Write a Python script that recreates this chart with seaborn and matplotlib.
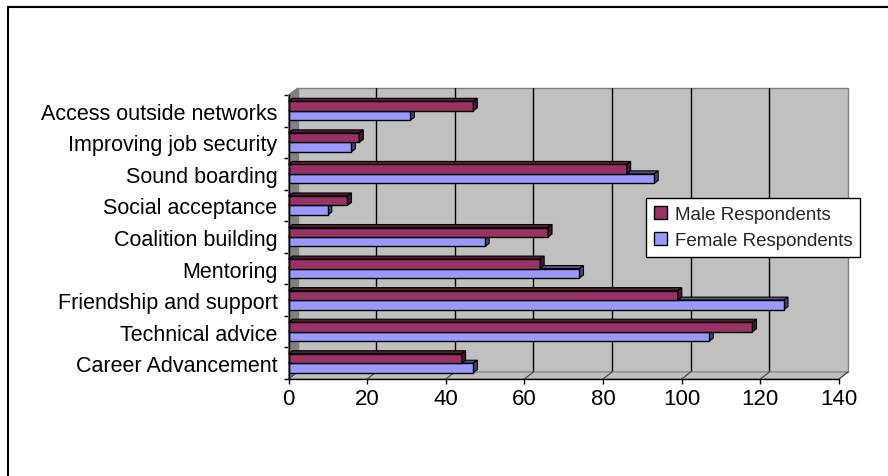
import numpy as np
import pandas as pd
import matplotlib
matplotlib.use("Agg")
import matplotlib.pyplot as plt
import seaborn as sns
from matplotlib.patches import Polygon, Rectangle, Patch
from matplotlib.lines import Line2D
import matplotlib.transforms as mtransforms

# ---------------- data ----------------
categories = ["Access outside networks", "Improving job security", "Sound boarding",
              "Social acceptance", "Coalition building", "Mentoring",
              "Friendship and support", "Technical advice", "Career Advancement"]
male = [47, 18, 86, 15, 66, 64, 99, 118, 44]
female = [31, 16, 93, 10, 50, 74, 126, 107, 47]
series = ["Male Respondents", "Female Respondents"]
x_ticks = [0, 20, 40, 60, 80, 100, 120, 140]

df = pd.DataFrame({
    "category": categories * 2,
    "group": [series[0]] * len(categories) + [series[1]] * len(categories),
    "value": male + female,
})

MALE_C = "#993366"
FEMALE_C = "#9999FF"
WALL_C = "#C0C0C0"
DARK_WALL = "#808080"

sns.set_theme(style="white")
plt.rcParams["font.family"] = ["Liberation Sans", "DejaVu Sans"]

W, H, DPI = 888, 477, 100
fig = plt.figure(figsize=(W / DPI, H / DPI), dpi=DPI)
fig.patch.set_facecolor("white")

# front plane of plot in pixels
L, R, T, B = 288.5, 839, 96, 380
ax = fig.add_axes([L / W, 1 - B / H, (R - L) / W, (B - T) / H])
ax.patch.set_visible(False)

sns.barplot(data=df, y="category", x="value", hue="group", order=categories,
            hue_order=series, palette=[MALE_C, FEMALE_C], orient="h",
            width=0.6, saturation=1, edgecolor="black", linewidth=1,
            legend=False, ax=ax)

ax.set_xlim(x_ticks[0], x_ticks[-1])
ax.set_ylim(len(categories) - 0.5, -0.5)
ax.set_xlabel("")
ax.set_ylabel("")
ax.set_xticks(x_ticks)
ax.set_xticklabels([str(t) for t in x_ticks], fontsize=16, color="black")
ax.set_yticks(range(len(categories)))
ax.set_yticklabels(categories, fontsize=15.5, color="black")
ax.set_yticks(np.arange(len(categories) + 1) - 0.5, minor=True)
ax.tick_params(axis="y", which="major", length=0, pad=8)
ax.tick_params(axis="y", which="minor", length=3.8, width=1, color="black", direction="out", left=True)
ax.tick_params(axis="x", which="major", length=3.8, width=1, color="black", direction="out", bottom=True, pad=3)
for s in ["top", "right"]:
    ax.spines[s].set_visible(False)
for s in ["left", "bottom"]:
    ax.spines[s].set_color("black")
    ax.spines[s].set_linewidth(1)
    ax.spines[s].set_zorder(5)
ax.grid(False)
ax.set_autoscale_on(False)

# ---------------- 3-D decorations ----------------
DX, DY = 9, 7  # depth offset of back wall in pixels
off = mtransforms.ScaledTranslation(DX / DPI, DY / DPI, fig.dpi_scale_trans)

# back wall
ax.add_patch(Rectangle((0, 0), 1, 1, transform=ax.transAxes + off, facecolor=WALL_C,
                       edgecolor=DARK_WALL, lw=1, zorder=0.1, clip_on=False))
# gridlines on back wall
for v in x_ticks[1:-1]:
    ax.plot([v, v], list(ax.get_ylim()), transform=ax.transData + off, color="black",
            lw=1, zorder=0.5, clip_on=False)

fig.canvas.draw()
tofig = fig.transFigure.inverted()
bb = ax.get_window_extent()
x0, x1, y0, y1 = bb.x0, bb.x1, bb.y0, bb.y1

def poly(pts, **kw):
    p = Polygon(tofig.transform(np.array(pts)), closed=True, transform=fig.transFigure,
                clip_on=False, **kw)
    ax.add_patch(p)
    return p

# left wall
poly([(x0, y0), (x0, y1), (x0 + DX, y1 + DY), (x0 + DX, y0 + DY)],
     facecolor=DARK_WALL, edgecolor=DARK_WALL, lw=0.8, zorder=0.6)
# floor
poly([(x0, y0), (x1, y0), (x1 + DX, y0 + DY), (x0 + DX, y0 + DY)],
     facecolor=WALL_C, edgecolor=DARK_WALL, lw=0.8, zorder=0.6)
# diagonal tick lines on floor
for v in x_ticks:
    xd = ax.transData.transform((v, 0))[0]
    p0 = tofig.transform((xd, y0))
    p1 = tofig.transform((xd + DX, y0 + DY))
    ax.add_line(Line2D([p0[0], p1[0]], [p0[1], p1[1]], transform=fig.transFigure,
                       color="#404040", lw=0.8, zorder=0.7, clip_on=False))

# bar depth faces
BX, BY = 4, 3
def shade(c, f):
    rgb = np.array(matplotlib.colors.to_rgb(c))
    return tuple(rgb * f)

for ci, (cont, col) in enumerate(zip(ax.containers, [MALE_C, FEMALE_C])):
    zb = 3.2 if ci == 0 else 3.0
    for bar in cont:
        bar.set_zorder(zb)
        e = bar.get_window_extent()
        bx0, bx1, by0, by1 = e.x0, e.x1, e.y0, e.y1
        poly([(bx0, by1), (bx1, by1), (bx1 + BX, by1 + BY), (bx0 + BX, by1 + BY)],
             facecolor=shade(col, 0.55), edgecolor="black", lw=0.8, zorder=zb + 0.05 if ci == 0 else 2.9)
        poly([(bx1, by0), (bx1, by1), (bx1 + BX, by1 + BY), (bx1 + BX, by0 + BY)],
             facecolor=shade(col, 0.45), edgecolor="black", lw=0.8, zorder=zb + 0.05 if ci == 0 else 2.9)

# ---------------- legend ----------------
handles = [Patch(facecolor=MALE_C, edgecolor="black", lw=1),
           Patch(facecolor=FEMALE_C, edgecolor="black", lw=1)]
leg = ax.legend(handles, series, loc="upper left", bbox_to_anchor=(646 / W, 1 - 199 / H),
                bbox_transform=fig.transFigure, frameon=True, fancybox=False,
                edgecolor="black", framealpha=1, fontsize=13.5, handlelength=0.7,
                handleheight=0.7, handletextpad=0.45, borderpad=0.4, labelspacing=0.5,
                borderaxespad=0)
leg.get_frame().set_linewidth(1)
leg.set_zorder(10)

# ---------------- chart frame ----------------
fig.add_artist(Line2D([8 / W, 1], [1 - 8 / H, 1 - 8 / H], transform=fig.transFigure,
                      color="black", lw=1.5))
fig.add_artist(Line2D([8 / W, 8 / W], [0, 1 - 8 / H], transform=fig.transFigure,
                      color="black", lw=1.5))

fig.savefig("out.png", dpi=DPI, facecolor="white")
